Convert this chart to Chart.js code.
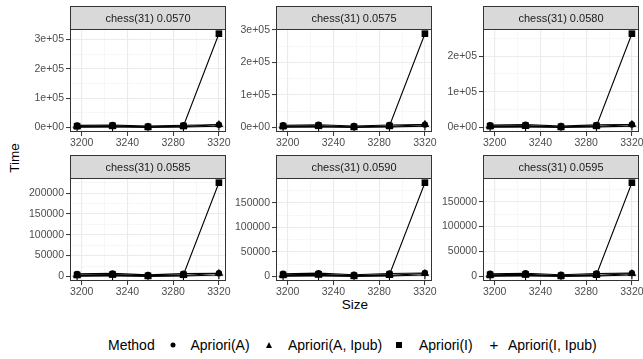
<!DOCTYPE html>
<html>
<head>
<meta charset="utf-8">
<script src="https://cdn.jsdelivr.net/npm/chart.js@4.4.1/dist/chart.umd.min.js"></script>
<style>
  body { margin: 0; background: #fff; width: 643px; height: 359px; position: relative; overflow: hidden;
         font-family: 'Liberation Sans', Arial, sans-serif; }
  canvas { position: absolute; }
  .txt { position: absolute; white-space: nowrap; color: #000; line-height: 1; }
  .c { transform: translate(-50%, -50%); }
  .key { position: absolute; transform: translate(-50%, -50%); }
  .dot { width: 5px; height: 5px; border-radius: 50%; background: #000; }
  .tri { width: 0; height: 0; border-left: 3.6px solid transparent; border-right: 3.6px solid transparent; border-bottom: 6.2px solid #000; }
  .sq { width: 6px; height: 6px; background: #000; }
</style>
</head>
<body>
<div class="txt c" id="ytitle" style="left:15px; top:158px; font-size:13.5px; transform: translate(-50%,-50%) rotate(-90deg);">Time</div>
<div class="txt c" style="left:355px; top:305px; font-size:13.5px;">Size</div>

<div class="txt" style="left:108px; top:345px; font-size:14px; transform: translateY(-50%);">Method</div>
<div class="key dot" style="left:173px; top:345px;"></div>
<div class="txt" style="left:190.5px; top:345px; font-size:14px; transform: translateY(-50%);" id="m0"></div>
<div class="key tri" style="left:269px; top:344.5px;"></div>
<div class="txt" style="left:288px; top:345px; font-size:14px; transform: translateY(-50%);" id="m1"></div>
<div class="key sq" style="left:399px; top:345px;"></div>
<div class="txt" style="left:419px; top:345px; font-size:14px; transform: translateY(-50%);" id="m2"></div>
<div class="txt c" style="left:494px; top:344px; font-size:15px;">+</div>
<div class="txt" style="left:508px; top:345px; font-size:14px; transform: translateY(-50%);" id="m3"></div>

<script>
// data
const sizes = [3196, 3227, 3258, 3289, 3320];
const supports = ["0.0570", "0.0575", "0.0580", "0.0585", "0.0590", "0.0595"];
const methods = ["Apriori(A)", "Apriori(A, Ipub)", "Apriori(I)", "Apriori(I, Ipub)"];

// one row per panel (support), one value per size
const timeA = [
  [7000, 8200, 4500, 7600, 9000],
  [6800, 8000, 4300, 7400, 8600],
  [6500, 7700, 4100, 7100, 8200],
  [6000, 7200, 3800, 6600, 7600],
  [5600, 6700, 3500, 6100, 7000],
  [5400, 6500, 3300, 5900, 6700]
];
const timeAIpub = [
  [2200, 3100, 700, 2700, 10000],
  [2100, 3000, 650, 2600, 9200],
  [2000, 2900, 600, 2500, 8500],
  [1900, 2700, 560, 2300, 7500],
  [1700, 2500, 520, 2100, 6000],
  [1600, 2400, 500, 2000, 5500]
];
const timeI = [
  [4000, 5200, 1500, 4700, 320000],
  [3800, 5000, 1400, 4500, 288000],
  [3600, 4800, 1300, 4300, 263000],
  [3400, 4500, 1200, 4000, 225000],
  [3100, 4200, 1100, 3700, 191000],
  [3000, 4000, 1000, 3600, 188000]
];
const timeIIpub = [
  [900, 1500, 300, 1300, 4000],
  [850, 1400, 280, 1250, 3800],
  [800, 1350, 260, 1200, 3600],
  [750, 1250, 240, 1100, 3300],
  [700, 1150, 220, 1000, 3000],
  [650, 1100, 200, 950, 2800]
];

const xTicks = [3200, 3240, 3280, 3320];
const yTicks = [
  [0, 100000, 200000, 300000],
  [0, 100000, 200000, 300000],
  [0, 100000, 200000],
  [0, 50000, 100000, 150000, 200000],
  [0, 50000, 100000, 150000],
  [0, 50000, 100000, 150000]
];
const yTickLabels = [
  ["0e+00", "1e+05", "2e+05", "3e+05"],
  ["0e+00", "1e+05", "2e+05", "3e+05"],
  ["0e+00", "1e+05", "2e+05"],
  ["0", "50000", "100000", "150000", "200000"],
  ["0", "50000", "100000", "150000"],
  ["0", "50000", "100000", "150000"]
];

methods.forEach((m, k) => { document.getElementById("m" + k).textContent = m; });

Chart.defaults.font.family = "'Liberation Sans', Arial, sans-serif";

const colLeft = [10, 216, 423];
const rowTop = [6, 155];
const stripH = 23;
const axisW = 60;
const axisH = 22;
const plotW = 156;
const plotH = 103;
const padR = 16;

// major breaks plus ggplot-style minor breaks halfway between them
function withMinor(major, lo, hi) {
  const step = major[1] - major[0];
  const out = [];
  for (let v = major[0] - step / 2; v <= major[major.length - 1] + step / 2 + 1e-9; v += step / 2) {
    if (v >= lo && v <= hi) out.push(v);
  }
  return out;
}

const panelFrame = {
  id: "panelFrame",
  afterDraw(chart, args, opts) {
    const { ctx, chartArea: a } = chart;
    const l = Math.round(a.left) + 0.5, r = Math.round(a.right) - 0.5;
    const t = Math.round(a.top) + 0.5, b = Math.round(a.bottom) - 0.5;
    ctx.save();
    ctx.fillStyle = "#D9D9D9";
    ctx.fillRect(l, t - stripH, r - l, stripH);
    ctx.strokeStyle = "#333333";
    ctx.lineWidth = 1;
    ctx.strokeRect(l, t - stripH, r - l, stripH);
    ctx.strokeRect(l, t, r - l, b - t);
    ctx.fillStyle = "#1A1A1A";
    ctx.font = "11px 'Liberation Sans', Arial, sans-serif";
    ctx.textAlign = "center";
    ctx.textBaseline = "middle";
    ctx.fillText(opts.label, (l + r) / 2, t - stripH / 2 + 0.5);
    ctx.restore();
  }
};

function makePanel(i) {
  const col = i % 3, row = Math.floor(i / 3);
  const cv = document.createElement("canvas");
  cv.width = axisW + plotW + padR;
  cv.height = stripH + plotH + axisH;
  cv.style.left = colLeft[col] + "px";
  cv.style.top = rowTop[row] + "px";
  document.body.appendChild(cv);

  const series = [timeA[i], timeAIpub[i], timeI[i], timeIIpub[i]];
  const shapes = ["circle", "triangle", "rect", "cross"];
  const radii = [3.2, 4.6, 4.7, 4.3];
  const drawOrder = [3, 0, 1, 2];

  const datasets = [];
  series.forEach((vals, k) => {
    const pts = sizes.map((x, j) => ({ x: x, y: vals[j] }));
    datasets.push({
      label: methods[k], data: pts, showLine: true,
      borderColor: "#000", borderWidth: 1.1, pointRadius: 0, order: 10
    });
    datasets.push({
      label: methods[k], data: pts, showLine: false,
      pointStyle: shapes[k], pointRadius: radii[k],
      backgroundColor: "#000", borderColor: "#000",
      borderWidth: k === 3 ? 1.1 : 0, order: drawOrder[k]
    });
  });

  const xMin = sizes[0] - 0.05 * (sizes[sizes.length - 1] - sizes[0]);
  const xMax = sizes[sizes.length - 1] + 0.05 * (sizes[sizes.length - 1] - sizes[0]);
  const allY = series.flat();
  const lo = Math.min(...allY), hi = Math.max(...allY);
  const yMin = lo - 0.05 * (hi - lo), yMax = hi + 0.05 * (hi - lo);

  const xAll = withMinor(xTicks, xMin, xMax);
  const yAll = withMinor(yTicks[i], yMin, yMax);
  const isMajorX = v => xTicks.includes(v);
  const isMajorY = v => yTicks[i].includes(v);

  new Chart(cv, {
    type: "scatter",
    data: { datasets },
    options: {
      responsive: false,
      animation: false,
      events: [],
      layout: { padding: { top: stripH, right: padR, left: 0, bottom: 0 } },
      plugins: {
        legend: { display: false },
        tooltip: { enabled: false },
        panelFrame: { label: "chess(31) " + supports[i] }
      },
      scales: {
        x: {
          type: "linear", min: xMin, max: xMax,
          afterBuildTicks: ax => { ax.ticks = xAll.map(v => ({ value: v })); },
          afterFit: ax => { ax.height = axisH; },
          border: { display: false },
          grid: {
            color: c => (c.tick && isMajorX(c.tick.value)) ? "#EBEBEB" : "#F2F2F2",
            lineWidth: c => (c.tick && isMajorX(c.tick.value)) ? 1.1 : 0.6,
            tickColor: c => (c.tick && isMajorX(c.tick.value)) ? "#333333" : "rgba(0,0,0,0)",
            tickLength: 4, tickWidth: 1
          },
          ticks: {
            autoSkip: false, maxRotation: 0, padding: 1, color: "#4D4D4D",
            font: { size: 10.5 },
            callback: v => isMajorX(v) ? String(v) : ""
          }
        },
        y: {
          type: "linear", min: yMin, max: yMax,
          afterBuildTicks: ax => { ax.ticks = yAll.map(v => ({ value: v })); },
          afterFit: ax => { ax.width = axisW; },
          border: { display: false },
          grid: {
            color: c => (c.tick && isMajorY(c.tick.value)) ? "#EBEBEB" : "#F2F2F2",
            lineWidth: c => (c.tick && isMajorY(c.tick.value)) ? 1.1 : 0.6,
            tickColor: c => (c.tick && isMajorY(c.tick.value)) ? "#333333" : "rgba(0,0,0,0)",
            tickLength: 4, tickWidth: 1
          },
          ticks: {
            autoSkip: false, padding: 2, color: "#4D4D4D",
            font: { size: 10.5 },
            callback: v => isMajorY(v) ? yTickLabels[i][yTicks[i].indexOf(v)] : ""
          }
        }
      }
    },
    plugins: [panelFrame]
  });
}

for (let i = 0; i < 6; i++) makePanel(i);
</script>
</body>
</html>
